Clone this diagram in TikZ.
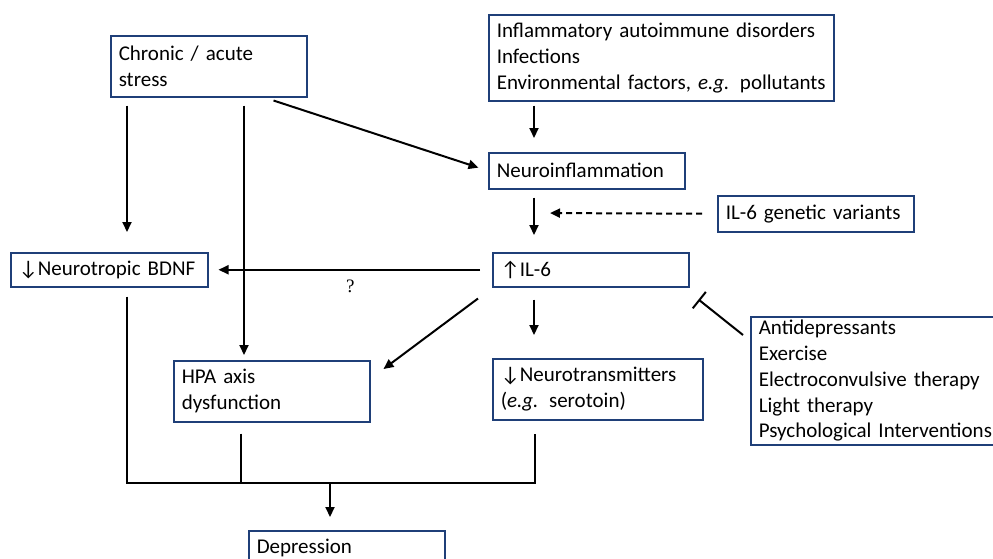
\documentclass[tikz,border=0pt]{standalone}
\usepackage{fontspec}
\setmainfont[WordSpace=0.7]{Carlito}
\newfontfamily\qfont{Liberation Serif}
\usepackage{tikz}
\usetikzlibrary{arrows.meta,positioning}
\definecolor{boxblue}{HTML}{1F3F78}

\begin{document}
\begin{tikzpicture}[x=1pt,y=-1pt,
  box/.style={draw=boxblue,line width=1.5pt,anchor=north west,align=left,
    inner xsep=8pt,inner ysep=0pt,font=\fontsize{21}{25.8}\selectfont},
  arr/.style={-{Triangle[length=10pt,width=9pt]},line width=2pt},
  link/.style={line width=2pt}]
\useasboundingbox (0,0) rectangle (993,558);

\node[box,text width=180pt,minimum height=61pt] (chronic) at (110,35) {Chronic / acute\\stress};
\node[box,text width=329pt,minimum height=86pt] (inflam) at (488,14)
  {\mbox{Inflammatory autoimmune disorders}\\Infections\\\mbox{Environmental factors, \emph{e.g.} pollutants}};
\node[box,text width=180pt,minimum height=36pt] (neuro) at (488,152) {Neuroinflammation};
\node[box,text width=180pt,minimum height=36pt] (genvar) at (717,195) {IL-6 genetic variants};
\node[box,text width=180pt,minimum height=34pt] (il6) at (492,252) {↑IL-6};
\node[box,text width=181pt,minimum height=34pt] (bdnf) at (10,252) {↓Neurotropic BDNF};
\node[box,text width=180pt,minimum height=61pt] (hpa) at (173,360) {HPA axis\\dysfunction};
\node[box,text width=194pt,minimum height=61pt] (ntrans) at (492,358)
  {↓Neurotransmitters\\(\emph{e.g.} serotoin)};
\node[box,text width=244pt,minimum height=128pt] (treat) at (750,316)
  {Antidepressants\\Exercise\\Electroconvulsive therapy\\Light therapy\\\mbox{Psychological Interventions}};
\node[box,text width=180pt,minimum height=35pt] (depr) at (248,530) {Depression};

% stress
\draw[arr,shorten <=8pt,shorten >=20pt] ([xshift=17pt]chronic.south west)
  -- ([xshift=17pt]chronic.south west |- bdnf.north);
\draw[arr,shorten <=8pt,shorten >=5pt] ([xshift=134pt]chronic.south west)
  -- ([xshift=134pt]chronic.south west |- hpa.north);
\draw[arr,shorten >=10pt] ([xshift=-34pt,yshift=-3pt]chronic.south east) -- (neuro.west);

% inflammation chain
\coordinate (join) at (534,213);
\draw[arr,shorten <=4pt,shorten >=14pt] ([xshift=46pt]inflam.south west)
  -- ([xshift=46pt]inflam.south west |- neuro.north);
\draw[arr,shorten <=8pt,shorten >=17pt] ([xshift=46pt]neuro.south west)
  -- ([xshift=46pt]neuro.south west |- il6.north);
\draw[arr,dashed,dash pattern=on 6pt off 4pt,shorten <=15pt,shorten >=16pt] (genvar.west) -- (join);

% IL-6 effects
\draw[arr,shorten <=12pt,shorten >=10pt] (il6.west) -- (il6.west -| bdnf.east)
  node[pos=0.5,below=6pt,font=\qfont\fontsize{19}{19}\selectfont] (qmark) {?};
\draw[arr] ([xshift=-14pt,yshift=-11pt]il6.south west) -- ([xshift=13pt,yshift=-9pt]hpa.north east);
\draw[arr,shorten <=12pt,shorten >=23pt] ([xshift=42pt]il6.south west)
  -- ([xshift=42pt]il6.south west |- ntrans.north);
\draw[-{Bar[width=21pt]},line width=2pt] ([xshift=-7pt,yshift=-19pt]treat.north west)
  -- ([xshift=9pt,yshift=-12pt]il6.south east);

% to depression
\coordinate (busL) at (127,483);
\coordinate (busR) at (535,483);
\coordinate (busM) at (330,483);
\draw[link] ([xshift=117pt,yshift=-9pt]bdnf.south west) -- (busL) -- (busR)
  -- ([yshift=-13pt]busR |- ntrans.south);
\draw[link] ([xshift=68pt,yshift=-11pt]hpa.south west) -- ([xshift=68pt]hpa.south west |- busL);
\draw[arr,shorten >=13pt] (busM) -- (busM |- depr.north);
\end{tikzpicture}
\end{document}
